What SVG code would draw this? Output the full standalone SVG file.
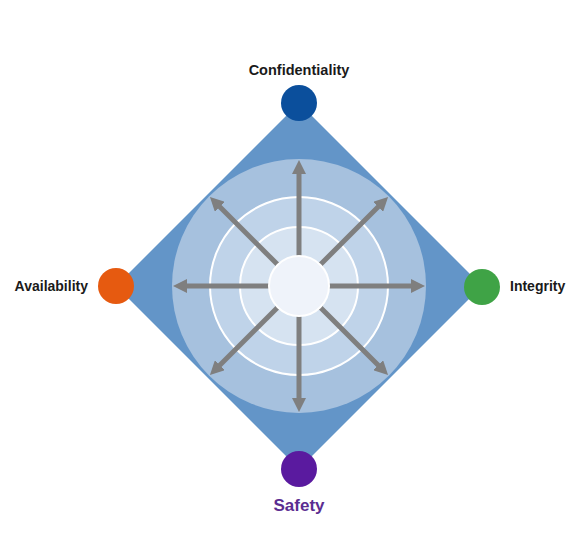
<svg xmlns="http://www.w3.org/2000/svg" width="588" height="541" viewBox="0 0 588 541">
  <style>
    .lbl { font-family: "Liberation Sans", Arial, sans-serif; font-weight: bold; font-size: 14px; fill: #1a1a1a; }
    .ring { fill: none; stroke: #ffffff; stroke-width: 2; }
    .arrow { stroke: #7f7f7f; stroke-width: 5; fill: none; marker-end: url(#head); }
  </style>
  <defs>
    <marker id="head" markerUnits="userSpaceOnUse" markerWidth="14" markerHeight="14" refX="4" refY="7" orient="auto">
      <path d="M0,0 L14,7 L0,14 z" fill="#7f7f7f"/>
    </marker>
  </defs>
  <rect width="588" height="541" fill="#ffffff"/>
  <g id="background">
    <polygon points="299,103 482,286 299,469 116,286" fill="#6395c8"/>
    <circle cx="299" cy="286" r="127" fill="#a6c1de"/>
    <circle cx="299" cy="286" r="89" fill="#bfd3e9"/>
    <circle cx="299" cy="286" r="89" class="ring"/>
    <circle cx="299" cy="286" r="59" fill="#d6e3f1"/>
    <circle cx="299" cy="286" r="59" class="ring"/>
  </g>
  <g id="connectors">
    <line class="arrow" x1="299" y1="256" x2="299" y2="170"/>
    <line class="arrow" x1="299" y1="316" x2="299" y2="402"/>
    <line class="arrow" x1="269" y1="286" x2="183" y2="286"/>
    <line class="arrow" x1="329" y1="286" x2="415" y2="286"/>
    <line class="arrow" x1="320.2" y1="264.8" x2="381" y2="204"/>
    <line class="arrow" x1="277.8" y1="264.8" x2="217" y2="204"/>
    <line class="arrow" x1="320.2" y1="307.2" x2="381" y2="368"/>
    <line class="arrow" x1="277.8" y1="307.2" x2="217" y2="368"/>
  </g>
  <g id="core">
    <circle cx="299" cy="286" r="30" fill="#eff3fa" stroke="#ffffff" stroke-width="2"/>
  </g>
  <g id="confidentiality">
    <circle cx="299" cy="103" r="18" fill="#0b4f9c"/>
    <text class="lbl" x="299" y="75" text-anchor="middle" style="font-size:14.5px">Confidentiality</text>
  </g>
  <g id="availability">
    <circle cx="116" cy="286" r="18" fill="#e65a10"/>
    <text class="lbl" x="88" y="291" text-anchor="end">Availability</text>
  </g>
  <g id="integrity">
    <circle cx="482" cy="287" r="18" fill="#3fa346"/>
    <text class="lbl" x="510" y="291">Integrity</text>
  </g>
  <g id="safety">
    <circle cx="299" cy="469" r="18" fill="#5a1a9f"/>
    <text class="lbl" x="299" y="511" text-anchor="middle" style="font-size:17px;fill:#5b2d91">Safety</text>
  </g>
</svg>
